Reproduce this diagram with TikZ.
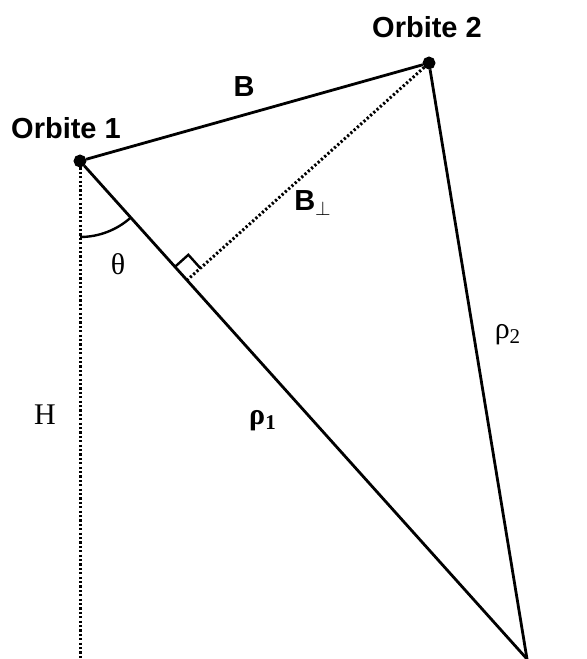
\documentclass[tikz,border=0pt]{standalone}
\usepackage{fontspec}
\usetikzlibrary{calc}
\newfontfamily\labelfont{Liberation Sans}
\newfontfamily\greekfont{Liberation Serif}

\newcommand*{\xmin}{0}
\newcommand*{\xmax}{586}
\newcommand*{\ymin}{0}
\newcommand*{\ymax}{659}

\begin{document}
\begin{tikzpicture}
[
	closedpt/.style={circle,draw,fill,inner sep=0pt,minimum size=5pt},
	sidelbl/.style={font=\labelfont\bfseries\fontsize{14.5}{17}\selectfont},
	mathlbl/.style={font=\greekfont\fontsize{15}{17}\selectfont},
	dotline/.style={line width=1.5pt,dash pattern=on 1.1pt off 1.1pt},
	x=0.5pt,y=-0.5pt,
	line width=1.4pt
]

	\useasboundingbox (\xmin,\ymin) rectangle (\xmax,\ymax);

	% satellites and ground point
	\node[closedpt] at (80,161) (orbone) {};
	\node[closedpt] at (429,63) (orbtwo) {};
	\coordinate (ground) at (527,659);
	\coordinate (nadir) at (80,659);
	\coordinate (foot) at ($(orbone)!(orbtwo)!(ground)$);

	% baseline and slant ranges
	\draw (orbone) -- (orbtwo);
	\draw (orbone) -- (ground);
	\draw (orbtwo) -- (ground);

	% height and perpendicular baseline
	\draw[dotline] (orbone) -- (nadir);
	\draw[dotline] (orbtwo) -- (foot);

	% right angle
	\coordinate (sqa) at ($(foot)!9pt!(orbone)$);
	\coordinate (sqb) at ($(foot)!9pt!(orbtwo)$);
	\draw[line width=1.2pt] (sqa) -- ($(sqa)+(sqb)-(foot)$) -- (sqb);

	% look angle
	\draw[line width=1.2pt] (orbone) ++(0,76) arc[start angle=90,end angle=48,radius=76];

	% labels
	\node[sidelbl] at (66,128) (orbonelbl) {Orbite 1};
	\node[sidelbl] at (427,27) (orbtwolbl) {Orbite 2};
	\node[sidelbl] at (244,87) (baselbl) {B};
	\node[sidelbl] at (313,203) (bperplbl) {B$_{\perp}$};
	\node[mathlbl] at (118,264) (thetalbl) {θ};
	\node[mathlbl] at (45,415) (hlbl) {H};
	\node[mathlbl] at (263,421) (rhoonelbl) {\bfseries ρ\textsubscript{1}};
	\node[mathlbl] at (508,335) (rhotwolbl) {ρ\textsubscript{2}};

\end{tikzpicture}
\end{document}
